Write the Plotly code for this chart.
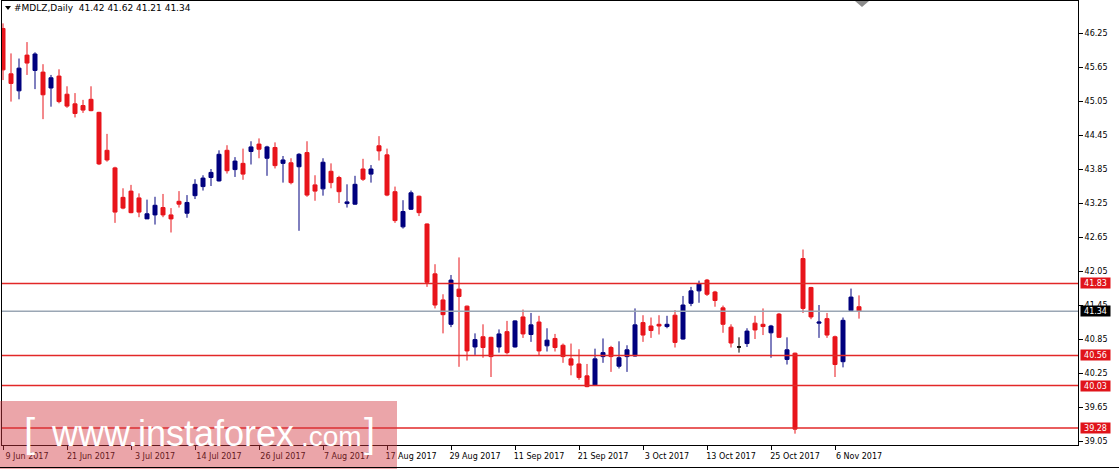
import plotly.graph_objects as go

# ---------------- data ----------------
dates = [
    "2017-06-09", "2017-06-12", "2017-06-13", "2017-06-14", "2017-06-15", "2017-06-16",
    "2017-06-19", "2017-06-20", "2017-06-21", "2017-06-22", "2017-06-23", "2017-06-26",
    "2017-06-27", "2017-06-28", "2017-06-29", "2017-06-30",
    "2017-07-03", "2017-07-05", "2017-07-06", "2017-07-07", "2017-07-10", "2017-07-11",
    "2017-07-12", "2017-07-13", "2017-07-14", "2017-07-17", "2017-07-18", "2017-07-19",
    "2017-07-20", "2017-07-21", "2017-07-24", "2017-07-25", "2017-07-26", "2017-07-27",
    "2017-07-28", "2017-07-31",
    "2017-08-01", "2017-08-02", "2017-08-03", "2017-08-04", "2017-08-07", "2017-08-08",
    "2017-08-09", "2017-08-10", "2017-08-11", "2017-08-14", "2017-08-15", "2017-08-16",
    "2017-08-17", "2017-08-18", "2017-08-21", "2017-08-22", "2017-08-23", "2017-08-24",
    "2017-08-25", "2017-08-28", "2017-08-29", "2017-08-30", "2017-08-31",
    "2017-09-01", "2017-09-05", "2017-09-06", "2017-09-07", "2017-09-08", "2017-09-11",
    "2017-09-12", "2017-09-13", "2017-09-14", "2017-09-15", "2017-09-18", "2017-09-19",
    "2017-09-20", "2017-09-21", "2017-09-22", "2017-09-25", "2017-09-26", "2017-09-27",
    "2017-09-28", "2017-09-29",
    "2017-10-02", "2017-10-03", "2017-10-04", "2017-10-05", "2017-10-06", "2017-10-09",
    "2017-10-10", "2017-10-11", "2017-10-12", "2017-10-13", "2017-10-16", "2017-10-17",
    "2017-10-18", "2017-10-19", "2017-10-20", "2017-10-23", "2017-10-24", "2017-10-25",
    "2017-10-26", "2017-10-27", "2017-10-30", "2017-10-31",
    "2017-11-01", "2017-11-02", "2017-11-03", "2017-11-06", "2017-11-07", "2017-11-08",
    "2017-11-09",
]

opens = [
    46.33, 45.53, 45.23, 45.86, 45.59, 45.56, 45.28, 45.49, 45.17, 45.00,
    44.97, 45.08, 44.85, 44.18, 43.87, 43.35, 43.46, 43.34, 42.97, 43.04,
    43.17, 43.04, 43.28, 43.07, 43.38, 43.54, 43.70, 43.64, 44.18, 43.84,
    43.95, 44.16, 44.29, 44.04, 44.23, 43.95, 43.96, 43.89, 44.14, 43.57,
    43.50, 43.81, 43.70, 43.24, 43.23, 43.85, 43.76, 44.26, 44.10, 43.45,
    42.83, 43.14, 43.37, 42.88, 42.00, 41.54, 41.11, 41.73, 41.43, 40.71,
    40.89, 40.88, 40.71, 40.98, 40.71, 41.24, 40.93, 41.15, 40.73, 40.86,
    40.74, 40.50, 40.41, 40.20, 40.04, 40.54, 40.70, 40.37, 40.54, 40.55,
    41.14, 41.08, 41.11, 41.07, 41.27, 40.85, 41.48, 41.70, 41.89, 41.68,
    41.40, 41.06, 40.71, 40.77, 41.13, 41.11, 40.96, 41.29, 40.49, 40.60,
    42.27, 41.76, 41.13, 41.21, 40.89, 40.45, 41.35, 41.42,
]
highs = [
    46.42, 45.89, 45.80, 46.09, 45.91, 45.70, 45.51, 45.61, 45.31, 45.19,
    45.07, 45.31, 44.86, 44.47, 43.89, 43.51, 43.57, 43.42, 43.31, 43.36,
    43.41, 43.16, 43.46, 43.39, 43.67, 43.74, 43.85, 44.18, 44.27, 44.06,
    44.21, 44.34, 44.39, 44.26, 44.32, 44.08, 44.04, 44.13, 44.34, 43.74,
    44.04, 43.95, 43.73, 43.58, 43.73, 44.03, 43.92, 44.43, 44.21, 43.54,
    43.30, 43.47, 43.38, 42.89, 42.17, 41.64, 41.98, 42.29, 41.44, 40.95,
    41.11, 40.89, 41.02, 41.17, 41.18, 41.37, 41.31, 41.26, 41.04, 40.94,
    40.77, 40.77, 40.67, 40.41, 40.68, 40.86, 40.73, 40.81, 40.74, 41.39,
    41.27, 41.23, 41.27, 41.26, 41.36, 41.61, 41.77, 41.88, 41.91, 41.70,
    41.44, 41.11, 40.88, 41.04, 41.26, 41.39, 41.10, 41.31, 40.88, 40.61,
    42.43, 41.77, 41.45, 41.31, 40.91, 41.23, 41.74, 41.62,
]
lows = [
    45.42, 45.04, 45.08, 45.51, 45.26, 44.73, 44.95, 45.01, 44.93, 44.76,
    44.84, 44.87, 43.92, 43.98, 42.90, 43.14, 43.07, 43.00, 42.97, 42.87,
    43.00, 42.73, 43.17, 42.99, 43.32, 43.47, 43.55, 43.63, 43.77, 43.71,
    43.66, 43.93, 44.04, 43.73, 43.86, 43.61, 43.58, 42.76, 43.36, 43.29,
    43.38, 43.51, 43.25, 43.17, 43.22, 43.64, 43.61, 44.00, 43.37, 42.90,
    42.80, 43.13, 43.02, 41.77, 41.39, 40.95, 41.06, 40.36, 40.47, 40.57,
    40.52, 40.18, 40.61, 40.58, 40.70, 40.87, 40.80, 40.55, 40.63, 40.63,
    40.43, 40.21, 40.13, 40.00, 40.03, 40.43, 40.27, 40.33, 40.27, 40.54,
    40.80, 40.87, 40.93, 41.04, 40.70, 40.84, 41.43, 41.49, 41.61, 41.42,
    40.96, 40.70, 40.61, 40.71, 40.85, 40.92, 40.52, 40.87, 40.40, 39.18,
    41.31, 41.20, 40.87, 40.87, 40.18, 40.35, 41.33, 41.21,
]
closes = [
    45.60, 45.36, 45.63, 45.72, 45.88, 45.16, 45.46, 45.04, 44.96, 44.83,
    44.89, 44.88, 43.94, 44.01, 43.09, 43.16, 43.08, 43.09, 43.06, 43.21,
    43.04, 42.97, 43.23, 43.26, 43.58, 43.69, 43.79, 44.11, 43.82, 43.99,
    43.76, 44.24, 44.20, 44.24, 43.91, 44.01, 43.61, 44.11, 43.39, 43.46,
    43.97, 43.61, 43.45, 43.27, 43.58, 43.67, 43.85, 44.17, 43.39, 42.94,
    43.10, 43.43, 43.08, 41.85, 41.45, 41.28, 41.89, 41.60, 40.64, 40.84,
    40.70, 40.54, 40.94, 40.61, 41.17, 40.94, 41.10, 40.64, 40.83, 40.70,
    40.54, 40.39, 40.17, 40.01, 40.50, 40.61, 40.54, 40.52, 40.66, 41.10,
    40.92, 41.00, 41.08, 41.11, 40.79, 41.45, 41.70, 41.82, 41.64, 41.53,
    41.11, 40.78, 40.71, 40.99, 41.01, 41.07, 41.08, 40.88, 40.66, 39.26,
    41.39, 41.24, 41.15, 40.92, 40.40, 41.18, 41.59, 41.34,
]

tick_dates = ["2017-06-09", "2017-06-21", "2017-07-03", "2017-07-14", "2017-07-26",
              "2017-08-07", "2017-08-17", "2017-08-29", "2017-09-11", "2017-09-21",
              "2017-10-03", "2017-10-13", "2017-10-25", "2017-11-06"]
tick_labels = ["9 Jun 2017", "21 Jun 2017", "3 Jul 2017", "14 Jul 2017", "26 Jul 2017",
               "7 Aug 2017", "17 Aug 2017", "29 Aug 2017", "11 Sep 2017", "21 Sep 2017",
               "3 Oct 2017", "13 Oct 2017", "25 Oct 2017", "6 Nov 2017"]
y_ticks = [39.05, 39.65, 40.25, 40.85, 41.45, 42.05, 42.65, 43.25, 43.85, 44.45,
           45.05, 45.65, 46.25]
level_prices = [41.83, 40.56, 40.03, 39.28]
current_price = 41.34
header_text = "#MDLZ,Daily  41.42 41.62 41.21 41.34"

# ---------------- geometry / styles ----------------
W, H = 1119, 469
ML, MR, MT, MB = 2, 41, 1, 24
PW, PH = W - ML - MR, H - MT - MB


def px_x(px):
    return (px - ML) / PW


def px_y(py):
    return (H - MB - py) / PH


BULL = "#00007F"
BEAR = "#E8141B"
LEVEL = "#E22828"
CUR = "#9AA6B4"
FONT = "DejaVu Sans"


def subset(kind):
    idx = []
    for i in range(len(dates)):
        o, c = opens[i], closes[i]
        if (kind == "bull" and c > o) or (kind == "bear" and c < o) or (kind == "doji" and c == o):
            idx.append(i)
    return dict(x=[dates[i] for i in idx], open=[opens[i] for i in idx],
                high=[highs[i] for i in idx], low=[lows[i] for i in idx],
                close=[closes[i] for i in idx])


fig = go.Figure()
for kind, col in (("bull", BULL), ("bear", BEAR), ("doji", "#000000")):
    d = subset(kind)
    fig.add_trace(go.Candlestick(
        **d,
        increasing=dict(line=dict(color=col, width=1), fillcolor=col),
        decreasing=dict(line=dict(color=col, width=1), fillcolor=col),
        whiskerwidth=0, hoverinfo="skip", showlegend=False,
    ))

shapes = []
for p in level_prices:
    shapes.append(dict(type="line", xref="paper", x0=0, x1=1, yref="y", y0=p, y1=p,
                       line=dict(color=LEVEL, width=1.5), layer="above"))
shapes.append(dict(type="line", xref="paper", x0=0, x1=1, yref="y", y0=current_price,
                   y1=current_price, line=dict(color=CUR, width=1.5), layer="above"))
# watermark band
shapes.append(dict(type="rect", xref="paper", yref="paper",
                   x0=px_x(0), x1=px_x(397), y0=px_y(401), y1=px_y(469),
                   fillcolor="rgba(210,55,65,0.45)", line=dict(width=0), layer="above"))
# header triangle
shapes.append(dict(type="path", xref="paper", yref="paper",
                   path=f"M {px_x(5)} {px_y(6)} L {px_x(11)} {px_y(6)} L {px_x(8)} {px_y(10)} Z",
                   fillcolor="black", line=dict(width=0), layer="above"))
# shift marker (top right)
shapes.append(dict(type="path", xref="paper", yref="paper",
                   path=f"M {px_x(855)} {px_y(1)} L {px_x(869)} {px_y(1)} L {px_x(862)} {px_y(7)} Z",
                   fillcolor="#8C8C8C", line=dict(width=0), layer="above"))
# bottom window edge
shapes.append(dict(type="line", xref="paper", yref="paper",
                   x0=px_x(0), x1=px_x(W), y0=px_y(467.5), y1=px_y(467.5),
                   line=dict(color="black", width=1), layer="above"))

annotations = [
    dict(text=header_text, xref="paper", yref="paper", x=px_x(12), y=px_y(8),
         xanchor="left", yanchor="middle", showarrow=False,
         font=dict(family=FONT, size=9, color="black")),
]
for p in level_prices:
    annotations.append(dict(text=f"{p:.2f}", xref="paper", yref="y", x=px_x(1080), y=p,
                            xanchor="left", yanchor="middle", showarrow=False,
                            bgcolor="#E0141A", width=27, height=8, borderpad=1,
                            font=dict(family=FONT, size=8, color="white")))
annotations.append(dict(text=f"{current_price:.2f}", xref="paper", yref="y", x=px_x(1080),
                        y=current_price, xanchor="left", yanchor="middle", showarrow=False,
                        bgcolor="black", width=27, height=8, borderpad=1,
                        font=dict(family=FONT, size=8, color="white")))
# watermark text
wm = dict(xref="paper", yref="paper", showarrow=False, xanchor="left", yanchor="middle")
annotations += [
    dict(text="[", x=px_x(22), y=px_y(433), font=dict(family="Liberation Sans", size=40, color="white"), **wm),
    dict(text="www.instaforex", x=px_x(49), y=px_y(433), font=dict(family="Liberation Sans", size=36, color="white"), **wm),
    dict(text=".com", x=px_x(299), y=px_y(436), font=dict(family="Liberation Sans", size=28, color="white"), **wm),
    dict(text="]", x=px_x(362), y=px_y(433), font=dict(family="Liberation Sans", size=40, color="white"), **wm),
]

fig.update_layout(
    width=W, height=H,
    margin=dict(l=ML, r=MR, t=MT, b=MB, pad=0),
    paper_bgcolor="white", plot_bgcolor="white",
    showlegend=False,
    boxgap=0.5, boxgroupgap=0,
    shapes=shapes, annotations=annotations,
    xaxis=dict(
        type="category", categoryorder="array", categoryarray=dates,
        range=[-0.125, 134.375],
        tickmode="array", tickvals=tick_dates, ticktext=tick_labels,
        ticks="outside", ticklen=4, tickcolor="black", tickwidth=1,
        ticklabelshift=24, ticklabelstandoff=-1,
        tickfont=dict(family=FONT, size=8, color="black"),
        showgrid=False, zeroline=False,
        showline=True, mirror=True, linecolor="black", linewidth=1,
        rangeslider=dict(visible=False), fixedrange=True,
    ),
    yaxis=dict(
        side="right", range=[38.98, 46.815],
        tickmode="array", tickvals=y_ticks, ticktext=[f"{v:.2f}" for v in y_ticks],
        ticks="outside", ticklen=4, tickcolor="black", tickwidth=1,
        tickfont=dict(family=FONT, size=8, color="black"),
        showgrid=False, zeroline=False,
        showline=True, mirror=True, linecolor="black", linewidth=1,
        fixedrange=True,
    ),
)

fig.write_html(
    "out.html",
    config={"displayModeBar": False, "staticPlot": True},
    post_script="document.body.style.margin='0';document.body.style.overflow='hidden';",
)
